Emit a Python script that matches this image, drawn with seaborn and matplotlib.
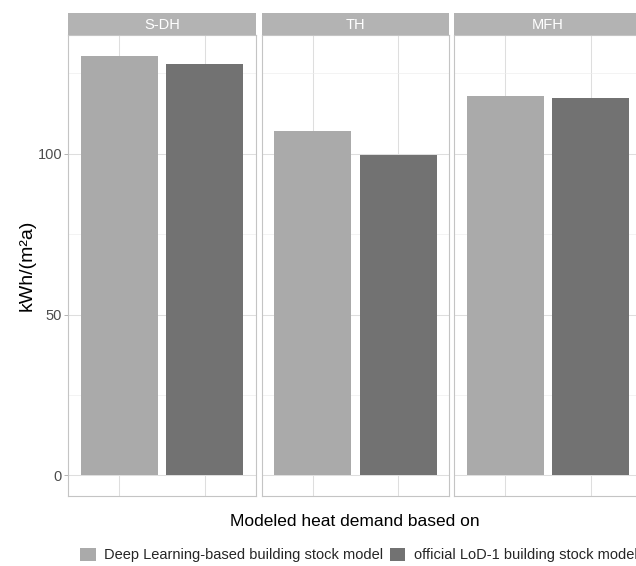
import matplotlib
matplotlib.use("Agg")
import matplotlib.pyplot as plt
from matplotlib.patches import Patch
from matplotlib.ticker import MultipleLocator
import seaborn as sns
import pandas as pd

# Heat demand per building type, by stock model source
building_types = ["S-DH", "TH", "MFH"]
sources = ["Deep Learning-based building stock model",
           "official LoD-1 building stock model"]
deep_learning = [130.4, 107.0, 117.8]
official_lod1 = [128.0, 99.5, 117.2]
y_ticks = [0, 50, 100]

colors = {sources[0]: "#AAAAAA", sources[1]: "#727272"}

rows = []
for bt, dl, off in zip(building_types, deep_learning, official_lod1):
    rows.append({"type": bt, "source": sources[0], "value": dl})
    rows.append({"type": bt, "source": sources[1], "value": off})
df = pd.DataFrame(rows)

sns.set_theme(style="white")
plt.rcParams["font.family"] = ["Liberation Sans", "DejaVu Sans"]

W, H = 636, 566
fig = plt.figure(figsize=(W / 100, H / 100), dpi=100)

def fx(px):
    return px / W

def fy(py):
    return 1 - py / H

panel_lefts = [68.3, 261.7, 454.3]
panel_w = 187.6
panel_top, panel_bottom = 35.0, 496.3
strip_top = 13.3

vmax = max(deep_learning + official_lod1)
ylim = (-0.05 * vmax, vmax * 1.05)

axes = []
for i, bt in enumerate(building_types):
    ax = fig.add_axes([fx(panel_lefts[i]), fy(panel_bottom), fx(panel_w),
                       (panel_bottom - panel_top) / H])
    sub = df[df["type"] == bt]
    sns.barplot(data=sub, x="source", y="value", hue="source", order=sources,
                hue_order=sources, palette=colors, width=0.9, saturation=1,
                legend=False, ax=ax, edgecolor="none", linewidth=0, zorder=3)
    ax.set_xlim(-0.6, 1.6)
    ax.set_ylim(*ylim)
    ax.yaxis.set_major_locator(MultipleLocator(50))
    ax.yaxis.set_minor_locator(MultipleLocator(25))
    ax.grid(which="major", axis="both", color="#DEDEDE", linewidth=0.75, zorder=0)
    ax.grid(which="minor", axis="y", color="#EDEDED", linewidth=0.45, zorder=0)
    ax.set_axisbelow(True)
    ax.set_xlabel("")
    ax.set_ylabel("")
    ax.tick_params(axis="x", which="both", bottom=False, labelbottom=False)
    for s in ax.spines.values():
        s.set_color("#C4C4C4")
        s.set_linewidth(0.8)
    if i == 0:
        ax.set_yticks(y_ticks)
        ax.tick_params(axis="y", which="major", left=True, length=3.0, width=0.7,
                       color="#B3B3B3", labelcolor="#4D4D4D", labelsize=10.5, pad=1.5)
        ax.tick_params(axis="y", which="minor", left=False)
    else:
        ax.tick_params(axis="y", which="both", left=False, labelleft=False)
    axes.append(ax)

    sax = fig.add_axes([fx(panel_lefts[i]), fy(panel_top), fx(panel_w),
                        (panel_top - strip_top) / H])
    sax.set_facecolor("#B3B3B3")
    sax.set_xticks([])
    sax.set_yticks([])
    for s in sax.spines.values():
        s.set_visible(False)
    sax.text(0.5, 0.45, bt, color="white", fontsize=10.5, ha="center", va="center",
             transform=sax.transAxes)

fig.text(fx(27), fy((panel_top + panel_bottom) / 2), "kWh/(m²a)", rotation=90,
         ha="center", va="center", fontsize=14, color="black")
fig.text(fx(355), fy(522), "Modeled heat demand based on", ha="center",
         va="center", fontsize=12.5, color="black")

handles = [Patch(facecolor=colors[s], edgecolor="none", label=s) for s in sources]
fig.legend(handles=handles, loc="center", bbox_to_anchor=(fx(359), fy(555)),
           ncol=2, frameon=False, fontsize=10.5, handlelength=1.05,
           handleheight=1.05, handletextpad=0.6, columnspacing=0.45,
           borderaxespad=0, borderpad=0)

fig.savefig("out.png", dpi=100)
